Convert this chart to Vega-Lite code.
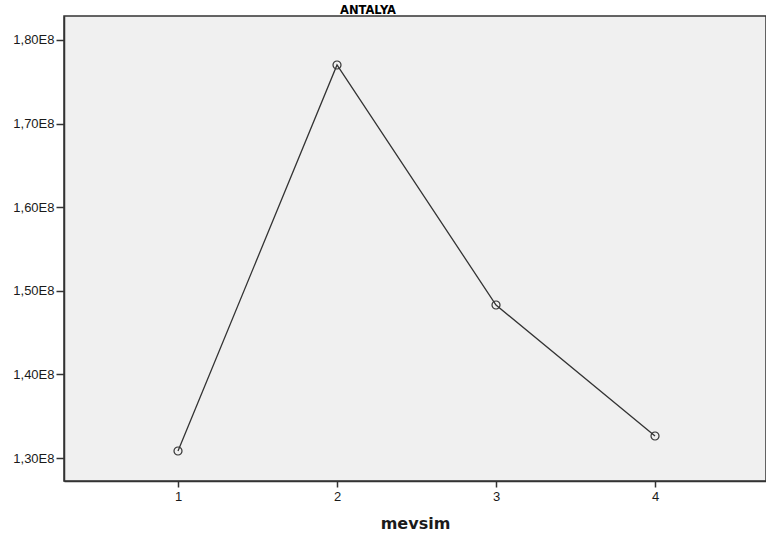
{
  "$schema": "https://vega.github.io/schema/vega-lite/v6.json",
  "autosize": "none",
  "padding": {"left": 64, "top": 16, "right": 0, "bottom": 61},
  "width": 702,
  "height": 465,
  "background": "white",
  "title": {
    "text": "ANTALYA",
    "font": "DejaVu Sans",
    "fontSize": 11.5,
    "fontWeight": "bold",
    "color": "#000000",
    "anchor": "middle",
    "dx": -47,
    "offset": 0
  },
  "config": {
    "view": {"fill": "#f0f0f0", "stroke": "#333333", "strokeWidth": 1.5},
    "axis": {
      "labelFont": "Liberation Sans",
      "labelFontSize": 13,
      "labelColor": "#1a1a1a",
      "domainColor": "#333333",
      "domainWidth": 1.5,
      "tickColor": "#333333",
      "tickWidth": 1.5,
      "grid": false
    }
  },
  "data": {
    "values": [
      {"mevsim": 1, "value": 130840000},
      {"mevsim": 2, "value": 177010000},
      {"mevsim": 3, "value": 148300000},
      {"mevsim": 4, "value": 132630000}
    ]
  },
  "encoding": {
    "x": {
      "field": "mevsim",
      "type": "quantitative",
      "scale": {"domain": [0.283, 4.698], "nice": false, "zero": false},
      "axis": {
        "values": [1, 2, 3, 4],
        "format": "d",
        "title": "mevsim",
        "titleFont": "DejaVu Sans",
        "titleFontSize": 16,
        "titleFontWeight": "bold",
        "titleColor": "#1a1a1a",
        "titlePadding": 12,
        "tickSize": 6,
        "labelPadding": 3
      }
    },
    "y": {
      "field": "value",
      "type": "quantitative",
      "scale": {"domain": [127250000, 182870000], "nice": false, "zero": false},
      "axis": {
        "values": [130000000, 140000000, 150000000, 160000000, 170000000, 180000000],
        "labelExpr": "replace(format(datum.value / 100000000, '.2f'), '.', ',') + 'E8'",
        "title": null,
        "tickSize": 8,
        "labelPadding": 2
      }
    }
  },
  "layer": [
    {"mark": {"type": "line", "color": "#333333", "strokeWidth": 1.3}},
    {"mark": {"type": "point", "filled": false, "color": "#333333", "strokeWidth": 1.2, "size": 64, "opacity": 1}}
  ]
}
